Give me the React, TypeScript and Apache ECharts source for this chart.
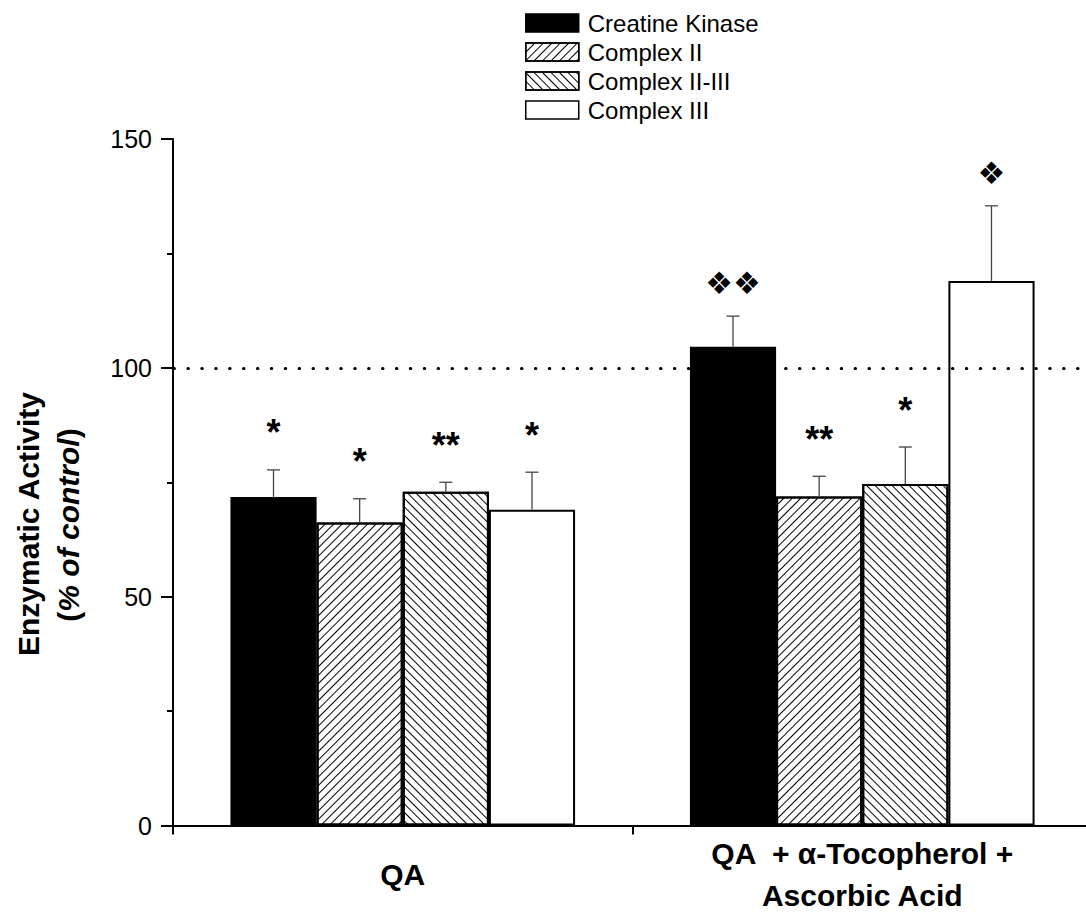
import React, { useEffect, useRef } from 'react';
import * as echarts from 'echarts';

const categories = ['QA', 'QA  + α-Tocopherol +\nAscorbic Acid'];
const seriesNames = ['Creatine Kinase', 'Complex II', 'Complex II-III', 'Complex III'];

const creatineKinase = [71.8, 104.6];
const complexII = [66.2, 71.9];
const complexIIandIII = [72.9, 74.6];
const complexIII = [69.0, 119.0];

const creatineKinaseSem = [5.9, 6.7];
const complexIISem = [5.2, 4.4];
const complexIIandIIISem = [2.1, 8.1];
const complexIIISem = [8.2, 16.4];

const creatineKinaseMarks = ['*', '❖❖'];
const complexIIMarks = ['*', '**'];
const complexIIandIIIMarks = ['**', '*'];
const complexIIIMarks = ['*', '❖'];

const yTicks = { min: 0, max: 150, interval: 50 };

const FONT = 'Liberation Sans, Arial, Helvetica, sans-serif';

export default function App() {
  const ref = useRef<HTMLDivElement>(null);

  useEffect(() => {
    if (!ref.current) return;
    const chart = echarts.init(ref.current, null, { renderer: 'svg' });

    const values = [creatineKinase, complexII, complexIIandIII, complexIII];
    const sems = [creatineKinaseSem, complexIISem, complexIIandIIISem, complexIIISem];
    const marks = [creatineKinaseMarks, complexIIMarks, complexIIandIIIMarks, complexIIIMarks];

    const errData: number[][] = [];
    const errMarks: string[] = [];
    values.forEach((vals, si) =>
      vals.forEach((v, ci) => {
        errData.push([ci, si, v, sems[si][ci]]);
        errMarks.push(marks[si][ci]);
      })
    );

    const hatch = (rot: number) => ({
      symbol: 'rect',
      symbolSize: 1,
      dashArrayX: [1, 0],
      dashArrayY: [1, 5],
      rotation: rot,
      color: '#000',
      backgroundColor: '#fff',
    });

    const styles: any[] = [
      { color: '#000' },
      { color: '#fff', decal: hatch(-Math.PI / 4) },
      { color: '#fff', decal: hatch(Math.PI / 4) },
      { color: '#fff' },
    ];

    const barSeries = seriesNames.map((name, si) => ({
      name,
      type: 'bar',
      xAxisIndex: 0,
      yAxisIndex: 0,
      data: values[si],
      barGap: '0%',
      barCategoryGap: '25%',
      itemStyle: { ...styles[si], borderColor: '#000', borderWidth: 2 },
    }));

    const option: any = {
      animation: false,
      backgroundColor: '#fff',
      grid: { left: 173, top: 139, width: 919, height: 686.5, containLabel: false, outerBoundsMode: 'none' },
      legend: {
        orient: 'vertical',
        left: 525,
        top: 11,
        padding: 0,
        itemWidth: 53,
        itemHeight: 18,
        itemGap: 5,
        icon: 'rect',
        selectedMode: false,
        data: seriesNames,
        itemStyle: { borderColor: '#000', borderWidth: 1.5 },
        textStyle: { fontSize: 24, color: '#000', fontFamily: FONT, padding: [0, 0, 0, 4] },
      },
      xAxis: [
        {
          type: 'category',
          data: categories,
          position: 'bottom',
          axisLine: { lineStyle: { color: '#000', width: 2 } },
          axisTick: { alignWithLabel: true, length: 16, lineStyle: { color: '#000', width: 2 } },
          axisLabel: {
            fontSize: 30,
            fontWeight: 'bold',
            color: '#000',
            fontFamily: FONT,
            lineHeight: 42,
            verticalAlign: 'middle',
            margin: 49,
            interval: 0,
          },
          splitLine: { show: false },
        },
        {
          type: 'value',
          min: 0,
          max: 2,
          interval: 1,
          position: 'bottom',
          axisLine: { show: false },
          axisTick: { show: true, length: 9, lineStyle: { color: '#000', width: 2 } },
          axisLabel: { show: false },
          splitLine: { show: false },
        },
      ],
      yAxis: {
        type: 'value',
        min: yTicks.min,
        max: yTicks.max,
        interval: yTicks.interval,
        axisLine: { show: true, lineStyle: { color: '#000', width: 2 } },
        axisTick: { show: true, length: 12, lineStyle: { color: '#000', width: 2 } },
        minorTick: { show: true, splitNumber: 2, length: 6, lineStyle: { color: '#000', width: 2 } },
        splitLine: { show: false },
        minorSplitLine: { show: false },
        axisLabel: { fontSize: 25, color: '#000', margin: 21, fontFamily: FONT },
      },
      series: [
        ...barSeries,
        {
          type: 'custom',
          xAxisIndex: 0,
          yAxisIndex: 0,
          z: 3,
          silent: true,
          data: errData,
          renderItem: (params: any, api: any) => {
            const ci = api.value(0);
            const si = api.value(1);
            const v = api.value(2);
            const e = api.value(3);
            const band = api.size([1, 0])[0];
            const bw = (band * 0.75) / 4;
            const x = api.coord([ci, 0])[0] - band * 0.375 + bw * (si + 0.5);
            const yTop = api.coord([ci, v])[1];
            const yErr = api.coord([ci, v + e])[1];
            const mark = errMarks[params.dataIndex];
            const isDiamond = mark.indexOf('❖') >= 0;
            const ty = isDiamond ? yErr - 35 + 2 : yErr - 45 + 8;
            return {
              type: 'group',
              children: [
                { type: 'line', shape: { x1: x, y1: yTop, x2: x, y2: yErr }, style: { stroke: '#444', lineWidth: 1.3 } },
                { type: 'line', shape: { x1: x - 6.5, y1: yErr, x2: x + 6.5, y2: yErr }, style: { stroke: '#444', lineWidth: 1.3 } },
                {
                  type: 'text',
                  x,
                  y: ty,
                  style: {
                    text: mark,
                    fill: '#000',
                    fontSize: isDiamond ? 31 : 36,
                    fontWeight: 'bold',
                    fontFamily: isDiamond ? 'DejaVu Sans' : FONT,
                    align: 'center',
                    verticalAlign: 'middle',
                  },
                },
              ],
            };
          },
          markLine: {
            silent: true,
            symbol: ['none', 'none'],
            label: { show: false },
            lineStyle: { color: '#000', width: 3, type: [0.5, 13.4], cap: 'round', dashOffset: -1 },
            data: [{ yAxis: 100 }],
          },
        },
      ],
      graphic: [
        {
          type: 'text',
          x: 28,
          y: 524,
          rotation: Math.PI / 2,
          style: {
            text: 'Enzymatic Activity',
            fontSize: 30,
            fontWeight: 'bold',
            fontFamily: FONT,
            fill: '#000',
            align: 'center',
            verticalAlign: 'middle',
          },
        },
        {
          type: 'text',
          x: 68,
          y: 525,
          rotation: Math.PI / 2,
          style: {
            text: '{n|(}{i|% of control}{n|)}',
            fill: '#000',
            align: 'center',
            verticalAlign: 'middle',
            rich: {
              n: { fontSize: 30, fontWeight: 'bold', fontFamily: FONT, fill: '#000' },
              i: { fontSize: 30, fontWeight: 'bold', fontStyle: 'italic', fontFamily: FONT, fill: '#000' },
            },
          },
        },
      ],
    };

    chart.setOption(option);
    return () => chart.dispose();
  }, []);

  return <div ref={ref} style={{ position: 'absolute', left: 0, top: 0, width: 1086, height: 912 }} />;
}
